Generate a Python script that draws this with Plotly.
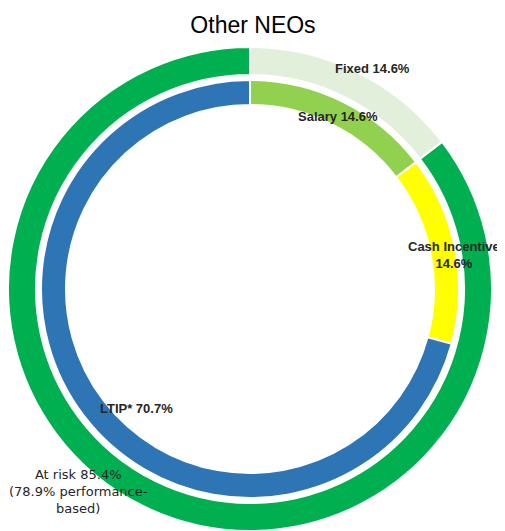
"""Other NEOs - pay mix shown as two concentric donut rings."""
import plotly.graph_objects as go

# Outer ring: fixed vs at-risk pay
outer_labels = ["Fixed", "At risk"]
outer_values = [14.6, 85.4]
outer_colors = ["#e2efda", "#00b050"]

# Inner ring: pay components
inner_labels = ["Salary", "Cash Incentive", "LTIP*"]
inner_values = [14.6, 14.6, 70.7]
inner_colors = ["#92d050", "#ffff00", "#2e75b6"]

# Data label texts (Excel-style labels)
label_texts = [
    "<b>Fixed 14.6%</b>",
    "<b>Salary 14.6%</b>",
    "<b>Cash Incentive<br>14.6%</b>",
    "<b>LTIP* 70.7%</b>",
    "At risk 85.4%<br>(78.9% performance-<br>based)",
]
# label anchor points, in pixels of the page
label_px = [(372, 68), (338, 116), (454, 255), (136, 408), (78, 491)]
label_fonts = ["Liberation Sans"] * 4 + ["DejaVu Sans"]
label_sizes = [13, 13, 13, 13, 13]

# the page body has an 8px margin, so the figure starts at (8, 8)
OFF = 8
W, H = 505 - OFF, 531 - OFF
M = {"l": 0, "r": 13, "t": 39, "b": 0}
PLOT_W = W - M["l"] - M["r"]
PLOT_H = H - M["t"] - M["b"]

R_OUT, R_OUT_HOLE = 242, 214
R_IN, R_IN_HOLE = 209, 184
FONT = "Liberation Sans, Arial, sans-serif"


def px_to_paper(x, y):
    x, y = x - OFF, y - OFF
    return (x - M["l"]) / PLOT_W, 1 - (y - M["t"]) / PLOT_H


inner_lo = (R_OUT - R_IN) / (2 * R_OUT)
inner_hi = 1 - inner_lo

fig = go.Figure()
fig.add_trace(go.Pie(
    labels=outer_labels,
    values=outer_values,
    hole=R_OUT_HOLE / R_OUT,
    sort=False,
    direction="clockwise",
    rotation=0,
    marker={"colors": outer_colors, "line": {"color": "white", "width": 2}},
    textinfo="none",
    domain={"x": [0, 1], "y": [0, 1]},
    showlegend=False,
))
fig.add_trace(go.Pie(
    labels=inner_labels,
    values=inner_values,
    hole=R_IN_HOLE / R_IN,
    sort=False,
    direction="clockwise",
    rotation=0,
    marker={"colors": inner_colors, "line": {"color": "white", "width": 2}},
    textinfo="none",
    domain={"x": [inner_lo, inner_hi], "y": [inner_lo, inner_hi]},
    showlegend=False,
))

annotations = []
for text, (px, py), fam, size in zip(label_texts, label_px, label_fonts, label_sizes):
    ax, ay = px_to_paper(px, py)
    annotations.append({
        "text": text, "x": ax, "y": ay, "xref": "paper", "yref": "paper",
        "xanchor": "center", "yanchor": "middle", "showarrow": False,
        "align": "center",
        "font": {"family": fam, "size": size, "color": "#262626"},
    })

fig.update_layout(
    width=W,
    height=H,
    margin=M,
    paper_bgcolor="white",
    plot_bgcolor="white",
    title={
        "text": "Other NEOs",
        "x": (253 - OFF) / W, "xanchor": "center",
        "y": 1 - (25 - OFF) / H, "yanchor": "middle",
        "font": {"family": FONT, "size": 23, "color": "black"},
    },
    annotations=annotations,
)

fig.write_html("out.html")
